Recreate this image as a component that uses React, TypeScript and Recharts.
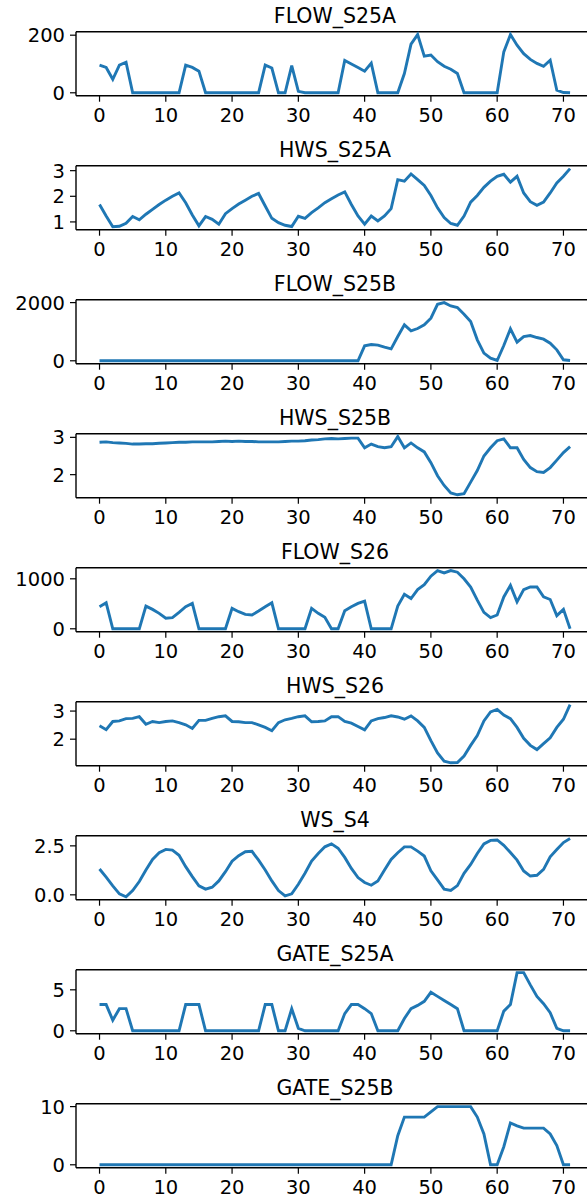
import { LineChart, Line, XAxis, YAxis, ReferenceLine } from 'recharts'

// hourly step index shared by every panel (0..71)
const steps = Array.from({ length: 72 }, (_, i) => i)

const flowS25A = [
    96, 88, 47, 96, 106, 0, 0, 0, 0, 0, 0, 0, 0, 96, 88, 75, 0, 0, 0, 0,
    0, 0, 0, 0, 0, 96, 86, 0, 0, 94, 5, 0, 0, 0, 0, 0, 0, 112, 100, 88,
    75, 103, 0, 0, 0, 0, 67, 169, 202, 127, 131, 108, 92, 82, 67, 0, 0, 0, 0, 0,
    0, 142, 202, 165, 136, 116, 102, 92, 113, 9, 1, 0,
]
const hwsS25A = [
    1.68, 1.23, 0.81, 0.83, 0.95, 1.21, 1.08, 1.3, 1.49, 1.68, 1.85, 2.0, 2.13, 1.75, 1.27, 0.85, 1.21, 1.1, 0.91, 1.32,
    1.52, 1.7, 1.85, 2.0, 2.11, 1.62, 1.14, 0.97, 0.87, 0.82, 1.22, 1.14, 1.36, 1.55, 1.75, 1.9, 2.05, 2.17, 1.68, 1.23,
    0.91, 1.23, 1.04, 1.23, 1.52, 2.65, 2.59, 2.87, 2.65, 2.42, 2.03, 1.55, 1.17, 0.94, 0.87, 1.23, 1.77, 2.03, 2.35, 2.59,
    2.78, 2.86, 2.55, 2.78, 2.13, 1.79, 1.65, 1.77, 2.13, 2.52, 2.78, 3.08,
]
const flowS25B = [
    0, 0, 0, 0, 0, 0, 0, 0, 0, 0, 0, 0, 0, 0, 0, 0, 0, 0, 0, 0,
    0, 0, 0, 0, 0, 0, 0, 0, 0, 0, 0, 0, 0, 0, 0, 0, 0, 0, 0, 0,
    514, 560, 537, 469, 411, 834, 1234, 1029, 1109, 1234, 1463, 1943, 2000, 1886, 1829, 1600, 1349, 720, 263, 91,
    11, 526, 1097, 640, 834, 869, 800, 743, 606, 377, 34, 11,
]
const hwsS25B = [
    2.87, 2.88, 2.86, 2.85, 2.84, 2.82, 2.82, 2.83, 2.83, 2.84, 2.85, 2.86, 2.87, 2.87, 2.88, 2.88, 2.88, 2.88, 2.89, 2.9,
    2.89, 2.9, 2.89, 2.89, 2.88, 2.88, 2.88, 2.88, 2.89, 2.9, 2.9, 2.91, 2.93, 2.94, 2.96, 2.97, 2.96, 2.97, 2.98, 2.98,
    2.72, 2.82, 2.75, 2.72, 2.75, 3.02, 2.72, 2.85, 2.72, 2.61, 2.32, 1.97, 1.71, 1.51, 1.46, 1.49, 1.8, 2.11, 2.5, 2.72,
    2.91, 2.96, 2.72, 2.72, 2.41, 2.19, 2.08, 2.06, 2.19, 2.39, 2.59, 2.75,
]
const flowS26 = [
    441, 520, 0, 0, 0, 0, 0, 454, 388, 309, 211, 224, 329, 441, 507, 0, 0, 0, 0, 0,
    408, 342, 289, 276, 355, 441, 520, 0, 0, 0, 0, 0, 408, 309, 230, 0, 0, 362, 441, 507,
    553, 0, 0, 0, 0, 454, 691, 605, 783, 882, 1053, 1164, 1118, 1164, 1132, 1000, 836, 572, 329, 224,
    276, 638, 868, 539, 783, 836, 836, 638, 586, 263, 388, 0,
]
const hwsS26 = [
    2.48, 2.34, 2.63, 2.65, 2.73, 2.74, 2.8, 2.53, 2.63, 2.59, 2.63, 2.65, 2.59, 2.51, 2.38, 2.67, 2.67, 2.74, 2.8, 2.83,
    2.63, 2.62, 2.59, 2.59, 2.51, 2.42, 2.3, 2.59, 2.69, 2.74, 2.8, 2.83, 2.62, 2.63, 2.65, 2.8, 2.8, 2.63, 2.57, 2.45,
    2.33, 2.65, 2.73, 2.77, 2.83, 2.79, 2.71, 2.83, 2.65, 2.42, 1.95, 1.51, 1.22, 1.16, 1.17, 1.4, 1.78, 2.13, 2.65, 2.97,
    3.06, 2.86, 2.73, 2.42, 2.03, 1.78, 1.63, 1.84, 2.05, 2.42, 2.71, 3.23,
]
const wsS4 = [
    1.32, 0.9, 0.46, 0.05, -0.1, 0.22, 0.68, 1.27, 1.81, 2.15, 2.32, 2.28, 2.02, 1.44, 0.93, 0.46, 0.29, 0.39, 0.71, 1.18,
    1.72, 2.0, 2.2, 2.22, 1.77, 1.27, 0.71, 0.22, -0.05, 0.05, 0.54, 1.1, 1.72, 2.11, 2.45, 2.6, 2.38, 1.91, 1.35, 0.88,
    0.63, 0.49, 0.71, 1.27, 1.81, 2.15, 2.45, 2.45, 2.23, 1.98, 1.23, 0.76, 0.29, 0.22, 0.47, 1.1, 1.55, 2.11, 2.6, 2.78,
    2.8, 2.53, 2.16, 1.77, 1.22, 0.96, 1.0, 1.3, 1.94, 2.31, 2.67, 2.87,
]
const gateS25A = [
    3.2, 3.2, 1.3, 2.7, 2.7, 0, 0, 0, 0, 0, 0, 0, 0, 3.2, 3.2, 3.2, 0, 0, 0, 0,
    0, 0, 0, 0, 0, 3.2, 3.2, 0, 0, 2.7, 0.3, 0, 0, 0, 0, 0, 0, 2.1, 3.2, 3.2,
    2.7, 2.1, 0, 0, 0, 0, 1.5, 2.7, 3.1, 3.6, 4.7, 4.2, 3.7, 3.2, 2.7, 0, 0, 0, 0, 0,
    0, 2.4, 3.2, 7.1, 7.1, 5.6, 4.2, 3.3, 2.2, 0.3, 0, 0,
]
const gateS25B = [
    0, 0, 0, 0, 0, 0, 0, 0, 0, 0, 0, 0, 0, 0, 0, 0, 0, 0, 0, 0,
    0, 0, 0, 0, 0, 0, 0, 0, 0, 0, 0, 0, 0, 0, 0, 0, 0, 0, 0, 0,
    0, 0, 0, 0, 0, 5, 8.2, 8.2, 8.2, 8.2, 9.1, 10, 10, 10, 10, 10, 10, 8.2, 5.3, 0,
    0, 3.1, 7.2, 6.7, 6.3, 6.3, 6.3, 6.3, 5.3, 3.3, 0, 0,
]

const titles = ['FLOW_S25A', 'HWS_S25A', 'FLOW_S25B', 'HWS_S25B', 'FLOW_S26', 'HWS_S26', 'WS_S4', 'GATE_S25A', 'GATE_S25B']
const series = [flowS25A, hwsS25A, flowS25B, hwsS25B, flowS26, hwsS26, wsS4, gateS25A, gateS25B]
const yTicks = [[0, 200], [1, 2, 3], [0, 2000], [2, 3], [0, 1000], [2, 3], [0, 2.5], [0, 5], [0, 10]]
const yDecimals = [0, 0, 0, 0, 0, 0, 1, 0, 0]
const xTicks = [0, 10, 20, 30, 40, 50, 60, 70]

const ROW_H = 134
const FONT = '"DejaVu Sans", sans-serif'
const tickStyle = { fill: '#000', fontSize: 19.5, fontFamily: FONT }
const xDomain: [number, number] = [-3.55, 74.55]

// matplotlib-like 5% padding around the data
function paddedDomain(values: number[]): [number, number] {
    const lo = Math.min(...values)
    const hi = Math.max(...values)
    const pad = (hi - lo) * 0.05
    return [lo - pad, hi + pad]
}

interface PanelProps {
    title: string
    values: number[]
    ticks: number[]
    decimals: number
    top: number
}

function Panel({ title, values, ticks, decimals, top }: PanelProps) {
    const data = steps.map((t) => ({ t, v: values[t] }))
    const yDomain = paddedDomain(values)
    return (
        <div style={{ position: 'absolute', left: 0, top, width: 620, height: ROW_H }}>
            <div
                style={{
                    position: 'absolute',
                    left: 0,
                    top: 3.7,
                    width: 670,
                    textAlign: 'center',
                    fontFamily: FONT,
                    fontSize: 20.5,
                    lineHeight: 'normal',
                    color: '#000',
                    whiteSpace: 'nowrap',
                }}
            >
                {title}
            </div>
            <div style={{ position: 'absolute', left: 0, top: 0 }}>
                <LineChart width={620} height={ROW_H} data={data} margin={{ top: 31.7, right: 26.4, bottom: 8.3, left: 0 }}>
                    <XAxis
                        dataKey="t"
                        type="number"
                        domain={xDomain}
                        ticks={xTicks}
                        interval={0}
                        tick={tickStyle}
                        tickSize={6}
                        tickMargin={6}
                        height={30}
                        tickLine={{ stroke: '#000', strokeWidth: 1.2 }}
                        axisLine={{ stroke: '#000', strokeWidth: 1.4 }}
                    />
                    <YAxis
                        type="number"
                        domain={yDomain}
                        ticks={ticks}
                        interval={0}
                        width={76}
                        tick={tickStyle}
                        tickSize={6}
                        tickMargin={5}
                        tickFormatter={(v: number) => v.toFixed(decimals)}
                        tickLine={{ stroke: '#000', strokeWidth: 1.2 }}
                        axisLine={{ stroke: '#000', strokeWidth: 1.4 }}
                    />
                    {/* top spine */}
                    <ReferenceLine y={yDomain[1]} stroke="#000" strokeWidth={1.4} />
                    <Line type="linear" dataKey="v" stroke="#1f77b4" strokeWidth={2.9} dot={false} isAnimationActive={false} />
                </LineChart>
            </div>
        </div>
    )
}

export default function App() {
    return (
        <div style={{ position: 'absolute', left: 0, top: 0, width: 587, height: 1199, overflow: 'hidden', background: '#fff' }}>
            {titles.map((title, i) => (
                <Panel
                    key={title}
                    title={title}
                    values={series[i]}
                    ticks={yTicks[i]}
                    decimals={yDecimals[i]}
                    top={i * ROW_H}
                />
            ))}
        </div>
    )
}
